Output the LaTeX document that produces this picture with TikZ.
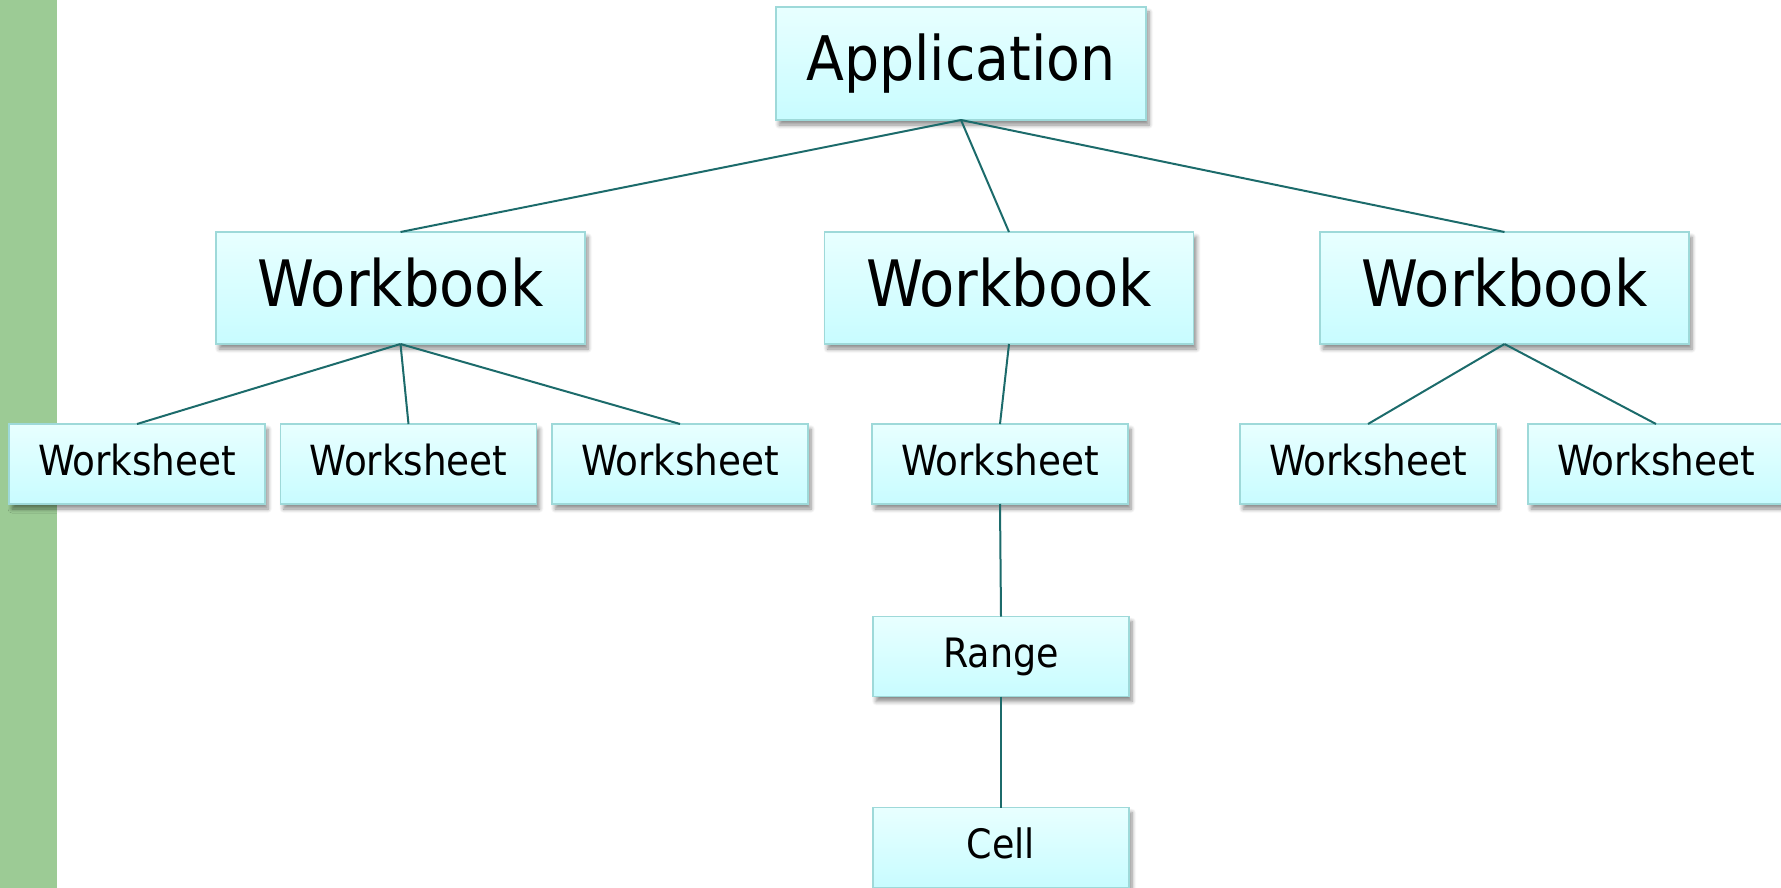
\documentclass[tikz,border=0pt]{standalone}
\usepackage{fontspec}
\setmainfont{DejaVu Sans Condensed}
\usetikzlibrary{shadows.blur}
\definecolor{barGreen}{HTML}{9CCB95}
\definecolor{boxTop}{HTML}{E8FFFF}
\definecolor{boxBottom}{HTML}{C8FCFF}
\definecolor{boxEdge}{HTML}{9ED9D9}
\definecolor{linkTeal}{HTML}{1C6B6B}
\tikzset{
  x=1pt, y=-1pt,
  objbox/.style={draw=boxEdge, line width=1.8pt, top color=boxTop, bottom color=boxBottom,
    inner sep=0pt, outer sep=0pt,
    blur shadow={shadow xshift=3pt, shadow yshift=-5pt, shadow blur steps=6, shadow blur radius=4pt, shadow opacity=45}},
  bigbox/.style={objbox, minimum width=369pt, minimum height=112pt,
    font=\fontsize{64}{64}\selectfont, text height=46pt, text depth=10pt},
  smallbox/.style={objbox, minimum width=256pt, minimum height=80pt,
    font=\fontsize{41.5}{41.5}\selectfont, text height=30pt, text depth=8pt},
  link/.style={draw=linkTeal, line width=2pt}
}
\begin{document}
\begin{tikzpicture}
\useasboundingbox (0,0) rectangle (1781,888);
\clip (0,0) rectangle (1781,888);
% side bar
\fill[barGreen] (0,0) rectangle (57,888);

% root
\node[bigbox, minimum width=370pt, minimum height=113pt,
      font=\fontsize{61.5}{61.5}\selectfont, text depth=12pt] (app) at (961,63.5) {Application};

% workbooks
\node[bigbox] (wb1) at (400.5,288) {Workbook};
\node[bigbox] (wb2) at (1009,288) {Workbook};
\node[bigbox] (wb3) at (1504.5,288) {Workbook};

% worksheets
\node[smallbox] (ws1) at (137,464) {Worksheet};
\node[smallbox] (ws2) at (408.5,464) {Worksheet};
\node[smallbox] (ws3) at (680,464) {Worksheet};
\node[smallbox] (ws4) at (1000,464) {Worksheet};
\node[smallbox] (ws5) at (1368,464) {Worksheet};
\node[smallbox] (ws6) at (1656,464) {Worksheet};

% range and cell
\node[smallbox, font=\fontsize{40.5}{40.5}\selectfont] (rng) at (1001,656.5) {Range};
\node[smallbox, font=\fontsize{40.5}{40.5}\selectfont] (cell) at (1001,847.5) {Cell};

% links
\foreach \c in {wb1,wb2,wb3} \draw[link] (app.south) -- (\c.north);
\foreach \c in {ws1,ws2,ws3} \draw[link] (wb1.south) -- (\c.north);
\draw[link] (wb2.south) -- (ws4.north);
\foreach \c in {ws5,ws6} \draw[link] (wb3.south) -- (\c.north);
\draw[link] (ws4.south) -- (rng.north);
\draw[link] (rng.south) -- (cell.north);
\end{tikzpicture}
\end{document}
